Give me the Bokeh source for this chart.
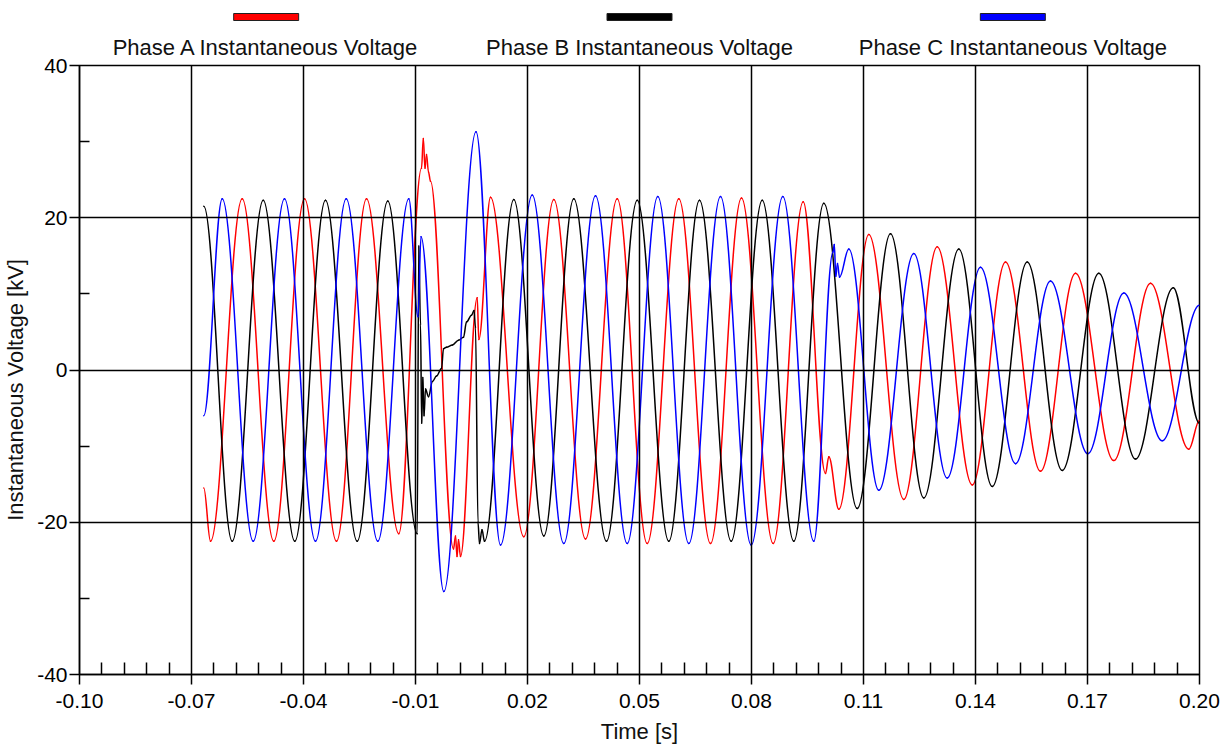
import numpy as np
from bokeh.plotting import figure
from bokeh.layouts import column
from bokeh.models import (Range1d, FixedTicker, NumeralTickFormatter, ColumnDataSource, LinearAxis)
from bokeh.embed import file_html
from bokeh.resources import INLINE

# ---------------- data (time [s], voltage [kV]) ----------------
# each series is a list of knots (mostly the extrema of the waveform)
phase_a_t = [-0.06671, -0.06491, -0.05642, -0.04795, -0.03973, -0.03116, -0.02312, -0.01447,
             -0.00839, -0.00791, -0.00745, -0.00705, -0.00652, -0.00598, 0.00018, 0.00072,
             0.00112, 0.00152, 0.00205, 0.00653, 0.00696, 0.01009, 0.01901, 0.02705,
             0.03554, 0.04403, 0.05206, 0.06053, 0.06902, 0.07732, 0.08581, 0.09385,
             0.09982, 0.10071, 0.10339, 0.11142, 0.12080, 0.12974, 0.13912, 0.14804,
             0.15741, 0.16679, 0.17705, 0.18688, 0.19714, 0.20000]
phase_a_v = [-15.5, -22.5, 22.5, -22.5, 22.5, -22.5, 22.5, -21.5,
             26.5, 30.4, 26.5, 28.3, 26.0, 24.8, -23.5, -21.8,
             -24.5, -22.3, -24.5, 9.5, 4.0, 22.7, -21.9, 22.4,
             -22.2, 22.5, -22.8, 22.5, -22.8, 22.6, -22.8, 22.1,
             -13.6, -11.4, -18.3, 17.8, -17.0, 16.2, -15.1, 14.2,
             -13.3, 12.7, -11.9, 11.4, -10.4, -6.6]

phase_b_t = [-0.06671, -0.05910, -0.05079, -0.04233, -0.03411, -0.02562, -0.01742, -0.00954,
             -0.00912, -0.00866, -0.00834, -0.00804, -0.00772, -0.00732, -0.00652, -0.00545,
             -0.00437, -0.00303, -0.00250, -0.00170, -0.00009, 0.00152, 0.00286, 0.00366,
             0.00500, 0.00567, 0.00607, 0.00674, 0.00714, 0.00781, 0.00848, 0.01633,
             0.02437, 0.03240, 0.04116, 0.04939, 0.05785, 0.06607, 0.07456, 0.08287,
             0.09133, 0.09937, 0.10831, 0.11723, 0.12615, 0.13553, 0.14448, 0.15385,
             0.16323, 0.17303, 0.18286, 0.19296, 0.20000]
phase_b_v = [21.5, -22.5, 22.3, -22.5, 22.3, -22.5, 22.2, -21.5,
             16.3, 6.0, -7.0, -1.0, -6.0, -2.5, -3.5, -1.5,
             -0.8, 0.2, 2.8, 3.0, 3.3, 3.9, 4.3, 6.3,
             7.2, 7.8, 5.6, -20.0, -22.8, -21.0, -22.5, 22.4,
             -21.8, 22.5, -22.5, 22.3, -22.5, 22.3, -22.5, 22.3,
             -22.5, 21.9, -18.2, 17.9, -16.8, 15.9, -15.3, 14.2,
             -13.2, 12.7, -11.7, 10.8, -7.0]

phase_c_t = [-0.06671, -0.06178, -0.05347, -0.04509, -0.03679, -0.02856, -0.02010, -0.01179,
             -0.00933, -0.00853, -0.00242, 0.00621, 0.01277, 0.02126, 0.02972, 0.03822,
             0.04671, 0.05490, 0.06321, 0.07170, 0.07992, 0.08839, 0.09669, 0.10183,
             0.10218, 0.10258, 0.10304, 0.10357, 0.10606, 0.11410, 0.12348, 0.13242,
             0.14134, 0.15072, 0.16009, 0.17008, 0.17973, 0.19001, 0.20000]
phase_c_v = [-6.0, 22.5, -22.5, 22.5, -22.5, 22.5, -22.5, 22.5,
             7.0, 17.5, -29.1, 31.3, -23.0, 23.0, -22.8, 22.9,
             -22.8, 22.8, -22.8, 22.8, -23.0, 22.8, -22.5, 15.5,
             16.5, 12.3, 14.0, 12.2, 15.9, -15.8, 15.3, -14.2,
             13.5, -12.3, 11.7, -11.0, 10.1, -9.3, 8.5]

series_names = ["Phase A Instantaneous Voltage", "Phase B Instantaneous Voltage",
                "Phase C Instantaneous Voltage"]

x_ticks = [-0.10, -0.07, -0.04, -0.01, 0.02, 0.05, 0.08, 0.11, 0.14, 0.17, 0.20]
y_ticks = [-40, -20, 0, 20, 40]
y_minor = [-30, -10, 10, 30]
x_label = "Time [s]"
y_label = "Instantaneous Voltage [kV]"

# ---------------- style ----------------
FONT = "Liberation Sans"
COLORS = ["#ff0000", "#000000", "#0000ff"]
K = 0.3634  # bezier handle fraction for smooth extremum-to-extremum strokes
W = 1229
HEAD_H = 29
MAIN_H = 746 - HEAD_H
BL, BR = 79, 30
FRAME_H = 610
YLAB_POS = 285  # px above the frame bottom where the y title is centred
slots = [i + 0.5 for i in range(len(series_names))]  # legend entries spread in thirds

x_minor = [round(-0.10 + 0.006 * i, 3) for i in range(51) if i % 5 != 0]
x_range = Range1d(-0.10, 0.20)

p = figure(width=W, height=MAIN_H, x_range=x_range, y_range=Range1d(-40, 40),
           output_backend="svg", toolbar_location=None,
           min_border_left=BL, min_border_right=BR, min_border_top=36, min_border_bottom=71)
p.background_fill_color = "white"
p.border_fill_color = "white"
p.outline_line_color = "black"
p.outline_line_width = 1.5

xt = FixedTicker(ticks=x_ticks, minor_ticks=x_minor)
yt = FixedTicker(ticks=y_ticks, minor_ticks=y_minor)
p.xaxis.ticker = xt
p.yaxis.ticker = yt
p.xgrid.ticker = xt
p.ygrid.ticker = yt
p.xaxis.formatter = NumeralTickFormatter(format="0.00")
p.yaxis.formatter = NumeralTickFormatter(format="0")

for g in (p.xgrid, p.ygrid):
    g.grid_line_color = "black"
    g.grid_line_width = 1.5
    g.level = "overlay"

for ax in (p.xaxis, p.yaxis):
    ax.axis_line_color = "black"
    ax.axis_line_width = 1.5
    ax.major_tick_line_color = "black"
    ax.major_tick_line_width = 1.5
    ax.minor_tick_line_color = "black"
    ax.minor_tick_line_width = 1.5
    ax.major_label_text_font = FONT
    ax.major_label_text_font_size = "21px"
    ax.major_label_text_color = "black"
    ax.axis_label_text_font = FONT
    ax.axis_label_text_font_size = "22px"
    ax.axis_label_text_font_style = "normal"
    ax.axis_label_text_color = "#111111"

p.xaxis.axis_label = x_label
p.xaxis.major_tick_out = 10
p.xaxis.major_tick_in = 0
p.xaxis.minor_tick_in = 12
p.xaxis.minor_tick_out = 0
p.xaxis.major_label_standoff = 9
p.xaxis.axis_label_standoff = 8
p.yaxis.major_tick_out = 10
p.yaxis.major_tick_in = 0
p.yaxis.minor_tick_in = 10
p.yaxis.minor_tick_out = 0
p.yaxis.major_label_standoff = 2


def label_axis(range_name, ticks, labels, is_x):
    kw = dict(x_range_name=range_name) if is_x else dict(y_range_name=range_name)
    ax = LinearAxis(ticker=FixedTicker(ticks=ticks),
                    major_label_overrides=dict(zip(ticks, labels)), **kw)
    ax.axis_line_color = None
    ax.major_tick_line_color = None
    ax.minor_tick_line_color = None
    ax.major_label_text_font = FONT
    ax.major_label_text_font_size = "22px"
    ax.major_label_text_color = "#111111"
    return ax


# y title as the single label of an extra axis, so it can sit a little below centre
p.extra_y_ranges = {"ylab": Range1d(0, FRAME_H)}
ylab_axis = label_axis("ylab", [YLAB_POS], [y_label], False)
ylab_axis.major_label_orientation = "vertical"
ylab_axis.major_label_standoff = 0
p.add_layout(ylab_axis, "left")

# legend names, evenly spread above the frame
p.extra_x_ranges = {"legend": Range1d(0, len(series_names))}
leg_axis = label_axis("legend", slots, series_names, True)
leg_axis.major_label_standoff = 0
p.add_layout(leg_axis, "above")


def bezier_source(t, v):
    t = np.asarray(t, dtype=float)
    v = np.asarray(v, dtype=float)
    dt = np.diff(t)
    return ColumnDataSource(dict(
        x0=t[:-1], y0=v[:-1], x1=t[1:], y1=v[1:],
        cx0=t[:-1] + K * dt, cy0=v[:-1], cx1=t[1:] - K * dt, cy1=v[1:]))


for (t, v), c in zip([(phase_a_t, phase_a_v), (phase_b_t, phase_b_v), (phase_c_t, phase_c_v)], COLORS):
    src = bezier_source(t, v)
    p.bezier(x0="x0", y0="y0", x1="x1", y1="y1", cx0="cx0", cy0="cy0", cx1="cx1", cy1="cy1",
             source=src, line_color=c, line_width=1.5, line_cap="round")

# ---------------- legend swatches above the names ----------------
head = figure(width=W, height=HEAD_H, x_range=Range1d(0, len(series_names)),
              y_range=Range1d(0, HEAD_H),
              output_backend="svg", toolbar_location=None, x_axis_type=None, y_axis_type=None,
              min_border_left=BL, min_border_right=BR, min_border_top=0, min_border_bottom=0)
head.outline_line_color = None
head.background_fill_color = "white"
head.border_fill_color = "white"
head.rect(x=slots, y=[HEAD_H - 16.5] * 3, width=65, height=7,
          width_units="screen", height_units="screen",
          fill_color=COLORS, line_color="#202020", line_width=1)

layout = column(head, p, spacing=0)
open("out.html", "w").write(file_html(layout, INLINE))
